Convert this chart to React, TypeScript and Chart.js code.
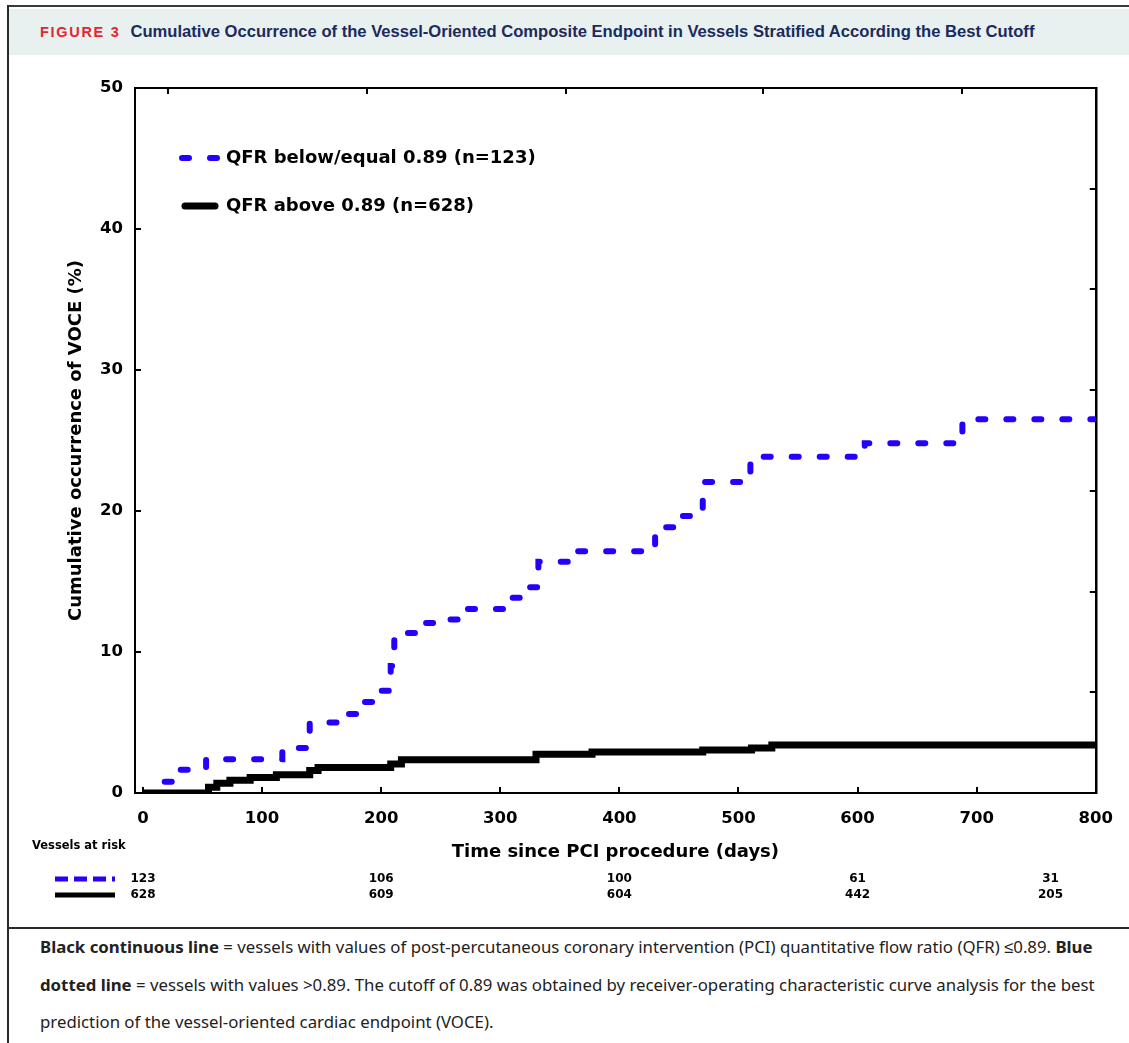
import React, { useEffect, useRef } from 'react';
import { Chart, registerables } from 'chart.js';

Chart.register(...registerables);

// ---- data ----
const seriesLabels = ['QFR below/equal 0.89 (n=123)', 'QFR above 0.89 (n=628)'];

const blueDays = [0, 10, 29, 53, 117, 140, 166, 182, 196, 208, 211, 233, 252, 269, 309, 321, 332, 360, 430, 449, 470, 510, 606, 688, 800];
const blueVals = [0, 0.8, 1.65, 2.4, 3.2, 5.0, 5.6, 6.45, 7.25, 9.0, 11.35, 12.05, 12.3, 13.05, 13.85, 14.6, 16.4, 17.15, 18.85, 19.65, 22.05, 23.85, 24.8, 26.5, 26.5];

const blackDays = [0, 55, 62, 73, 90, 112, 140, 147, 208, 217, 330, 377, 470, 511, 528, 800];
const blackVals = [0, 0.4, 0.7, 0.9, 1.1, 1.3, 1.6, 1.8, 2.05, 2.35, 2.75, 2.9, 3.05, 3.2, 3.4, 3.4];

const xTicks = [0, 100, 200, 300, 400, 500, 600, 700, 800];
const yTicks = [0, 10, 20, 30, 40, 50];
const topTicks = [21, 188, 355, 521, 688];
const rightTicks = [7.14, 14.29, 21.43, 28.57, 35.71, 42.86];

const riskTimes = [0, 200, 400, 600, 762];
const riskBlue = [123, 106, 100, 61, 31];
const riskBlack = [628, 609, 604, 442, 205];

const BLUE = '#2400ff';
const FONT = "'DejaVu Sans', Verdana, sans-serif";

const inwardTicks = {
  id: 'inwardTicks',
  afterDraw(chart: any) {
    const { ctx, chartArea: a, scales } = chart;
    const len = 6;
    ctx.save();
    ctx.strokeStyle = '#000';
    ctx.lineWidth = 2;
    ctx.beginPath();
    scales.x.ticks.forEach((t: any) => {
      const p = Math.round(scales.x.getPixelForValue(t.value));
      ctx.moveTo(p, a.bottom); ctx.lineTo(p, a.bottom - len);
    });
    scales.x2.ticks.forEach((t: any) => {
      const p = Math.round(scales.x2.getPixelForValue(t.value));
      ctx.moveTo(p, a.top); ctx.lineTo(p, a.top + len);
    });
    scales.y.ticks.forEach((t: any) => {
      const p = Math.round(scales.y.getPixelForValue(t.value));
      ctx.moveTo(a.left, p); ctx.lineTo(a.left + len, p);
    });
    scales.y2.ticks.forEach((t: any) => {
      const p = Math.round(scales.y2.getPixelForValue(t.value));
      ctx.moveTo(a.right, p); ctx.lineTo(a.right - len, p);
    });
    ctx.stroke();
    ctx.restore();
  },
};

const legendAndRisk = {
  id: 'legendAndRisk',
  afterDraw(chart: any) {
    const { ctx, chartArea: a, scales } = chart;
    const ds = chart.data.datasets;
    ctx.save();
    // in-plot legend
    ds.forEach((d: any, i: number) => {
      const y = a.top + 70 + i * 48;
      ctx.strokeStyle = d.borderColor;
      ctx.lineWidth = d.borderWidth;
      ctx.setLineDash(d.borderDash || []);
      ctx.lineCap = 'round';
      ctx.beginPath();
      if (i === 0) { ctx.moveTo(a.left + 47, y); ctx.lineTo(a.left + 83, y); }
      else { ctx.moveTo(a.left + 50, y); ctx.lineTo(a.left + 80, y); }
      ctx.stroke();
      ctx.setLineDash([]);
      ctx.fillStyle = '#000';
      ctx.font = `bold 18px ${FONT}`;
      ctx.textAlign = 'left';
      ctx.textBaseline = 'middle';
      ctx.fillText(d.label, a.left + 91, y);
    });
    // vessels at risk table
    const h = chart.height;
    ctx.fillStyle = '#000';
    ctx.font = `bold 11.5px ${FONT}`;
    ctx.textAlign = 'left';
    ctx.textBaseline = 'middle';
    ctx.fillText('Vessels at risk', 32, h - 64);
    const rows = [riskBlue, riskBlack];
    const rowY = [h - 31, h - 15];
    rows.forEach((row, r) => {
      const d = ds[r];
      ctx.strokeStyle = d.borderColor;
      ctx.lineWidth = 5;
      ctx.lineCap = 'butt';
      ctx.setLineDash(r === 0 ? [13, 6] : []);
      ctx.beginPath();
      ctx.moveTo(55, rowY[r]); ctx.lineTo(115, rowY[r]);
      ctx.stroke();
      ctx.setLineDash([]);
      ctx.fillStyle = '#000';
      ctx.font = `bold 12px ${FONT}`;
      ctx.textAlign = 'center';
      row.forEach((n, k) => {
        ctx.fillText(String(n), scales.x.getPixelForValue(riskTimes[k]), rowY[r]);
      });
    });
    ctx.restore();
  },
};

export default function App() {
  const ref = useRef<HTMLCanvasElement>(null);

  useEffect(() => {
    const CH = 850;
    const chart = new Chart(ref.current as HTMLCanvasElement, {
      type: 'line',
      data: {
        datasets: [
          {
            label: seriesLabels[0],
            data: blueDays.map((d, i) => ({ x: d, y: blueVals[i] })),
            borderColor: BLUE,
            borderWidth: 6,
            borderDash: [7, 21],
            borderDashOffset: -5,
            borderCapStyle: 'round',
            stepped: true,
            pointRadius: 0,
            fill: false,
            order: 0,
          },
          {
            label: seriesLabels[1],
            data: blackDays.map((d, i) => ({ x: d, y: blackVals[i] })),
            borderColor: '#000',
            borderWidth: 7,
            borderCapStyle: 'butt',
            stepped: true,
            pointRadius: 0,
            fill: false,
            order: -1,
          },
        ],
      },
      options: {
        animation: false,
        responsive: false,
        events: [],
        layout: { padding: { left: 0, top: 28, right: 30, bottom: 0 } },
        plugins: { legend: { display: false }, tooltip: { enabled: false } },
        scales: {
          x: {
            type: 'linear',
            position: 'bottom',
            min: -6.7,
            max: 800,
            afterBuildTicks: (s: any) => { s.ticks = xTicks.map((v) => ({ value: v })); },
            afterFit: (s: any) => { s.height = CH - 733; },
            grid: { display: false, drawTicks: false },
            border: { display: true, color: '#000', width: 2 },
            ticks: { padding: 16, color: '#000', font: { family: FONT, weight: 'bold', size: 16.5 } },
            title: {
              display: true,
              text: 'Time since PCI procedure (days)',
              color: '#000',
              font: { family: FONT, weight: 'bold', size: 18 },
              padding: { top: 0, bottom: 47 },
            },
          },
          x2: {
            type: 'linear',
            position: 'top',
            min: -6.7,
            max: 800,
            afterBuildTicks: (s: any) => { s.ticks = topTicks.map((v) => ({ value: v })); },
            afterFit: (s: any) => { s.height = 0; },
            grid: { display: false, drawTicks: false },
            border: { display: true, color: '#000', width: 2 },
            ticks: { display: false },
          },
          y: {
            type: 'linear',
            position: 'left',
            min: 0,
            max: 50,
            afterBuildTicks: (s: any) => { s.ticks = yTicks.map((v) => ({ value: v })); },
            afterFit: (s: any) => { s.width = 135; },
            grid: { display: false, drawTicks: false },
            border: { display: true, color: '#000', width: 2 },
            ticks: { padding: 12, color: '#000', font: { family: FONT, weight: 'bold', size: 16.5 } },
            title: {
              display: true,
              text: 'Cumulative occurrence of VOCE (%)',
              color: '#000',
              font: { family: FONT, weight: 'bold', size: 18 },
              padding: { top: 66, bottom: 0 },
            },
          },
          y2: {
            type: 'linear',
            position: 'right',
            min: 0,
            max: 50,
            afterBuildTicks: (s: any) => { s.ticks = rightTicks.map((v) => ({ value: v })); },
            afterFit: (s: any) => { s.width = 0; },
            grid: { display: false, drawTicks: false },
            border: { display: true, color: '#000', width: 2.5 },
            ticks: { display: false },
          },
        },
      } as any,
      plugins: [inwardTicks, legendAndRisk],
    } as any);
    return () => chart.destroy();
  }, []);

  const captionStyle: React.CSSProperties = {
    position: 'absolute',
    left: 40,
    top: 928,
    fontFamily: "'Noto Sans', sans-serif",
    fontSize: 16.8,
    lineHeight: '37.5px',
    color: '#222',
    whiteSpace: 'nowrap',
  };

  return (
    <div style={{ position: 'absolute', left: 0, top: 0, width: 1129, height: 1043, background: '#fff', overflow: 'hidden' }}>
      <div style={{ position: 'absolute', left: 7, top: 5, right: 0, height: 2, background: '#3a3a3a' }} />
      <div style={{ position: 'absolute', left: 7, top: 5, width: 2, bottom: 0, background: '#2a2a2a' }} />
      <div style={{ position: 'absolute', left: 9, top: 9, right: 0, height: 46, background: '#e8f1f0' }} />
      <div
        style={{
          position: 'absolute',
          left: 40,
          top: 22,
          height: 20,
          lineHeight: '20px',
          whiteSpace: 'nowrap',
          fontFamily: "'Liberation Sans', Arial, sans-serif",
          fontWeight: 'bold',
        }}
      >
        <span style={{ color: '#e2262f', fontSize: 14.5, letterSpacing: 1.7 }}>FIGURE 3</span>
        <span style={{ color: '#1c2a5c', fontSize: 16.6, marginLeft: 10 }}>
          Cumulative Occurrence of the Vessel-Oriented Composite Endpoint in Vessels Stratified According the Best Cutoff
        </span>
      </div>
      <canvas ref={ref} width={1129} height={850} style={{ position: 'absolute', left: 0, top: 60, width: 1129, height: 850 }} />
      <div style={{ position: 'absolute', left: 9, top: 927, right: 0, height: 2, background: '#2a2a2a' }} />
      <div style={captionStyle}>
        <b>Black continuous line</b> = vessels with values of post-percutaneous coronary intervention (PCI) quantitative flow ratio (QFR) ≤0.89. <b>Blue</b>
        <br />
        <b>dotted line</b> = vessels with values &gt;0.89. The cutoff of 0.89 was obtained by receiver-operating characteristic curve analysis for the best
        <br />
        prediction of the vessel-oriented cardiac endpoint (VOCE).
      </div>
    </div>
  );
}
